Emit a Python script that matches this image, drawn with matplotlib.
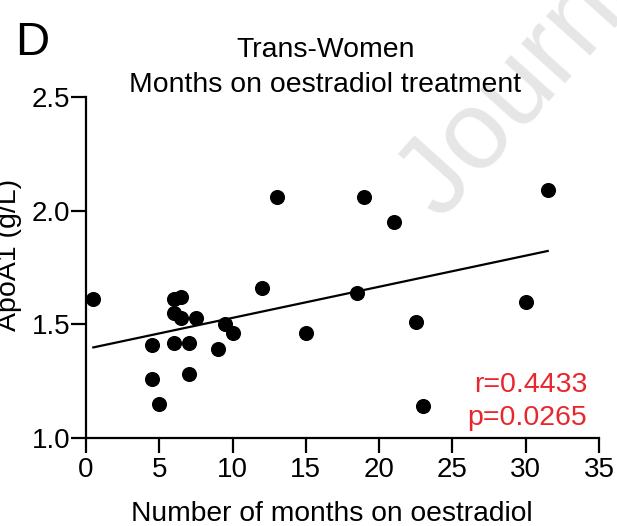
import numpy as np
import matplotlib
matplotlib.use("Agg")
import matplotlib.pyplot as plt

plt.rcParams['font.family'] = ['Liberation Sans', 'DejaVu Sans']

months = [0.5, 4.5, 4.5, 5.0, 6.0, 6.5, 6.0, 6.5, 6.0, 7.0, 7.5, 7.0, 9.0, 9.5,
          10.0, 12.0, 13.0, 15.0, 18.5, 19.0, 21.0, 22.5, 23.0, 30.0, 31.5]
apoa1 = [1.61, 1.41, 1.26, 1.15, 1.61, 1.62, 1.55, 1.53, 1.42, 1.42, 1.53, 1.28, 1.39, 1.50,
         1.46, 1.66, 2.06, 1.46, 1.64, 2.06, 1.95, 1.51, 1.14, 1.60, 2.09]
xticks = [0, 5, 10, 15, 20, 25, 30, 35]
yticks = [1.0, 1.5, 2.0, 2.5]

W, H = 617, 526
fig = plt.figure(figsize=(W / 100, H / 100), dpi=100)

def fx(px):
    return px / W

def fy(py):
    return 1 - py / H

# faint journal watermark
fig.text(fx(441), fy(222), "Journal Pre-proof", fontsize=80, color='#e6e6e6',
         rotation=48, rotation_mode='anchor', ha='left', va='baseline', zorder=0)

ax = fig.add_axes([fx(86), fy(438), (599 - 86) / W, (438 - 97) / H])
ax.patch.set_alpha(0)

x = np.array(months)
y = np.array(apoa1)
ax.scatter(x, y, s=118, color='black', zorder=3, clip_on=False, linewidths=0)
slope, intercept = np.polyfit(x, y, 1)
xl = np.array([x.min(), x.max()])
ax.plot(xl, slope * xl + intercept, color='black', lw=1.6, zorder=2)

ax.set_xlim(0, 35)
ax.set_ylim(1.0, 2.5)
ax.set_xticks(xticks)
ax.set_xticklabels([str(t) for t in xticks])
ax.set_yticks(yticks)
ax.set_yticklabels([f"{t:.1f}" for t in yticks])
for s in ['top', 'right']:
    ax.spines[s].set_visible(False)
for s in ['left', 'bottom']:
    ax.spines[s].set_linewidth(1.6)
ax.tick_params(axis='both', direction='out', length=11, width=1.6, labelsize=20)
ax.tick_params(axis='x', pad=3)
ax.tick_params(axis='y', pad=0.5)

fig.text(fx(332), fy(521), "Number of months on oestradiol", fontsize=20.3,
         ha='center', va='baseline')
fig.text(fx(16.5), fy(255), "ApoA1 (g/L)", rotation=90, fontsize=20.5,
         rotation_mode='anchor', ha='center', va='baseline')
fig.text(fx(325.5), fy(57), "Trans-Women", fontsize=20.4, ha='center', va='baseline')
fig.text(fx(325.5), fy(91.5), "Months on oestradiol treatment", fontsize=20.4,
         ha='center', va='baseline')
fig.text(fx(15), fy(55), "D", fontsize=34, ha='left', va='baseline')

red = '#e8262b'
fig.text(fx(587), fy(392), "r=0.4433", color=red, fontsize=20.5, ha='right', va='baseline')
fig.text(fx(587), fy(425), "p=0.0265", color=red, fontsize=20.5, ha='right', va='baseline')

fig.savefig("out.png", dpi=100)
